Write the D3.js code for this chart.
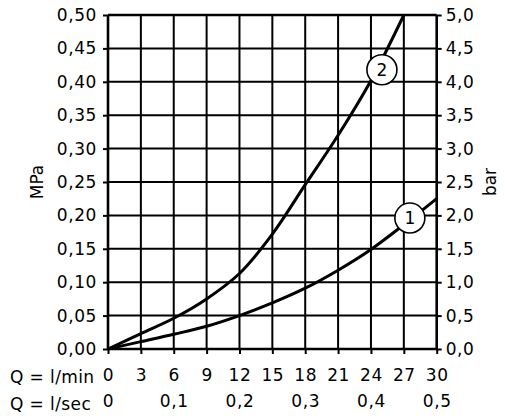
<!DOCTYPE html>
<html>
<head>
<meta charset="utf-8">
<script src="https://cdn.jsdelivr.net/npm/d3@7/dist/d3.min.js"></script>
<style>
  body { margin: 0; background: #fff; }
  svg { display: block; font-family: "DejaVu Sans", sans-serif; }
</style>
</head>
<body>
<div id="chart"></div>
<script>
// flow in l/min and pressure in MPa
const flowMin = [0, 3, 6, 9, 12, 15, 18, 21, 24, 27, 30];
const flowSec = [0, 0.1, 0.2, 0.3, 0.4, 0.5];
const mpaTicks = [0, 0.05, 0.1, 0.15, 0.2, 0.25, 0.3, 0.35, 0.4, 0.45, 0.5];
const barTicks = [0, 0.5, 1, 1.5, 2, 2.5, 3, 3.5, 4, 4.5, 5];

const curve1Q = [0, 3, 6, 9, 12, 15, 18, 21, 24, 27, 30];
const curve1P = [0, 0.011, 0.022, 0.034, 0.05, 0.069, 0.091, 0.118, 0.149, 0.186, 0.225];
const curve2Q = [0, 3, 6, 9, 12, 15, 18, 21, 24, 27];
const curve2P = [0, 0.023, 0.046, 0.075, 0.113, 0.172, 0.246, 0.32, 0.402, 0.5];

const markerNames = ['1', '2'];
const markerQ = [27.55, 25.0];
const markerP = [0.196, 0.418];

const width = 505, height = 419;
const svg = d3.select('#chart').append('svg')
    .attr('width', width)
    .attr('height', height);

const x = d3.scaleLinear().domain([0, 30]).range([108, 436.7]);
const xSec = d3.scaleLinear().domain([0, 0.5]).range([108, 436.7]);
const y = d3.scaleLinear().domain([0, 0.5]).range([349, 15]);
const yBar = d3.scaleLinear().domain([0, 5]).range([349, 15]);

const comma = f => v => d3.format(f)(v).replace('.', ',');

// grid
svg.append('g')
    .selectAll('line.v')
    .data(flowMin)
    .join('line')
    .attr('x1', d => x(d)).attr('x2', d => x(d))
    .attr('y1', y(0)).attr('y2', y(0.5))
    .attr('stroke', '#000')
    .attr('stroke-width', d => (d === 0 || d === 30) ? 2.6 : 2);

svg.append('g')
    .selectAll('line.h')
    .data(mpaTicks)
    .join('line')
    .attr('x1', x(0)).attr('x2', x(30))
    .attr('y1', d => y(d)).attr('y2', d => y(d))
    .attr('stroke', '#000')
    .attr('stroke-width', d => (d === 0 || d === 0.5) ? 2.6 : 2);

// axes
function styleAxis(g) {
    g.select('.domain').remove();
    g.selectAll('.tick line').attr('stroke', '#000').attr('stroke-width', 2);
    g.selectAll('.tick text')
        .attr('fill', '#000')
        .style('font-size', '17px')
        .style('letter-spacing', '0.6px')
        .style('font-family', '"DejaVu Sans", sans-serif');
}

svg.append('g')
    .attr('transform', `translate(${x(0)},0)`)
    .call(d3.axisLeft(y).tickValues(mpaTicks).tickSize(5).tickPadding(6).tickFormat(comma('.2f')))
    .call(styleAxis);

svg.append('g')
    .attr('transform', `translate(${x(30)},0)`)
    .call(d3.axisRight(yBar).tickValues(barTicks).tickSize(5).tickPadding(4).tickFormat(comma('.1f')))
    .call(styleAxis);

svg.append('g')
    .attr('transform', `translate(0,${y(0)})`)
    .call(d3.axisBottom(x).tickValues(flowMin).tickSize(5).tickPadding(15).tickFormat(d3.format('d')))
    .call(styleAxis);

svg.append('g')
    .attr('transform', `translate(0,${y(0)})`)
    .call(d3.axisBottom(xSec).tickValues(flowSec).tickSize(0).tickPadding(46).tickFormat(v => v === 0 ? '0' : comma('.1f')(v)))
    .call(styleAxis);

// row titles
svg.append('text')
    .attr('x', 10).attr('y', 383)
    .style('font-size', '17px')
    .style('letter-spacing', '0.4px')
    .text('Q = l/min');
svg.append('text')
    .attr('x', 10).attr('y', 409.5)
    .style('font-size', '17px')
    .style('letter-spacing', '0.4px')
    .text('Q = l/sec');

// unit labels
svg.append('text')
    .attr('transform', `translate(43,182) rotate(-90)`)
    .attr('text-anchor', 'middle')
    .style('font-size', '17px')
    .text('MPa');
svg.append('text')
    .attr('transform', `translate(496,182) rotate(-90)`)
    .attr('text-anchor', 'middle')
    .style('font-size', '17px')
    .text('bar');

// curves
const line = d3.line()
    .x(d => x(d[0]))
    .y(d => y(d[1]))
    .curve(d3.curveCatmullRom.alpha(0.5));

const series = [d3.zip(curve1Q, curve1P), d3.zip(curve2Q, curve2P)];
svg.append('g')
    .selectAll('path')
    .data(series)
    .join('path')
    .attr('d', line)
    .attr('fill', 'none')
    .attr('stroke', '#000')
    .attr('stroke-width', 3);

// numbered markers
const markers = svg.append('g')
    .selectAll('g')
    .data(markerNames.map((n, i) => ({ n, q: markerQ[i], p: markerP[i] })))
    .join('g')
    .attr('transform', d => `translate(${x(d.q)},${y(d.p)})`);

markers.append('circle')
    .attr('r', 15)
    .attr('fill', '#fff')
    .attr('stroke', '#000')
    .attr('stroke-width', 1.6);

markers.append('text')
    .attr('text-anchor', 'middle')
    .attr('dy', '0.36em')
    .style('font-size', '17px')
    .text(d => d.n);
</script>
</body>
</html>
